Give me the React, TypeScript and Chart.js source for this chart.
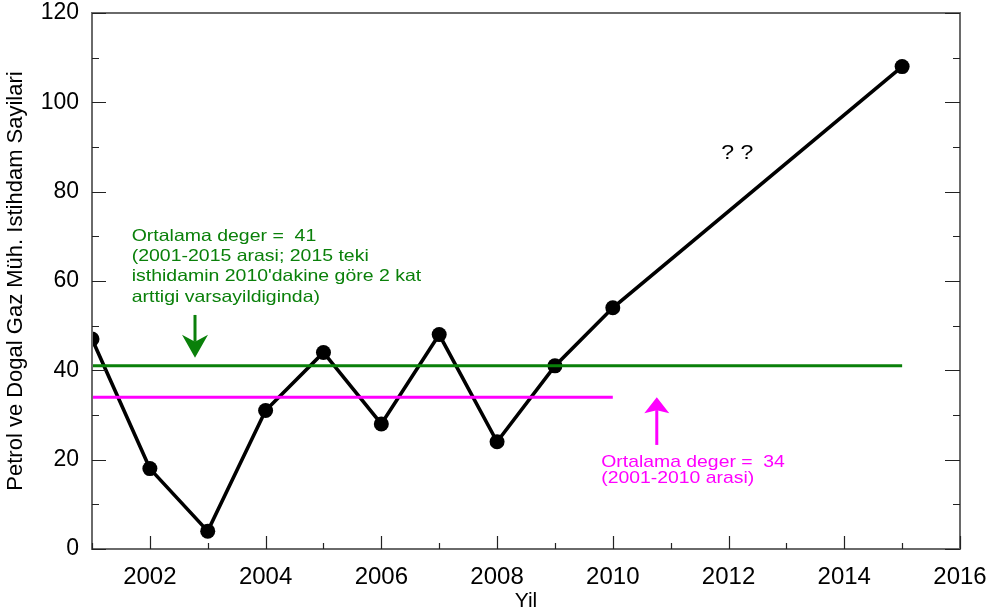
import React, { useEffect, useRef } from 'react';
import { Chart, registerables } from 'chart.js';

Chart.register(...registerables);

// ---- data ----
const years = [2001, 2002, 2003, 2004, 2005, 2006, 2007, 2008, 2009, 2010, 2015];
const employment = [47, 18, 4, 31, 44, 28, 48, 24, 41, 54, 108];

const avgAllValue = 41;
const avgAllYears = [2001, 2015];
const avg2010Value = 34;
const avg2010Years = [2001, 2010];

const xTickLabels = [2002, 2004, 2006, 2008, 2010, 2012, 2014, 2016];
const yTickLabels = [0, 20, 40, 60, 80, 100, 120];

const greenNote = [
  'Ortalama deger =  41',
  '(2001-2015 arasi; 2015 teki',
  "isthidamin 2010'dakine göre 2 kat",
  'arttigi varsayildiginda)',
];
const magentaNote = ['Ortalama deger =  34', '(2001-2010 arasi)'];
const questionNote = '? ?';

const xTitle = 'Yil';
const yTitle = 'Petrol ve Dogal Gaz Müh. Istihdam Sayilari';

const GREEN = '#0a800a';
const MAGENTA = '#ff00ff';
const FONT = '"Liberation Sans", Arial, sans-serif';

function stretchText(ctx: CanvasRenderingContext2D, text: string, x: number, y: number, sx: number) {
  ctx.save();
  ctx.translate(x, y);
  ctx.scale(sx, 1);
  ctx.fillText(text, 0, 0);
  ctx.restore();
}

function arrow(
  ctx: CanvasRenderingContext2D,
  x: number,
  yStart: number,
  yTip: number,
  headLen: number,
  headW: number,
  notch: number,
  color: string
) {
  const dir = yTip > yStart ? 1 : -1;
  ctx.save();
  ctx.strokeStyle = color;
  ctx.fillStyle = color;
  ctx.lineWidth = 3;
  ctx.beginPath();
  ctx.moveTo(x, yStart);
  ctx.lineTo(x, yTip - dir * (headLen - notch));
  ctx.stroke();
  ctx.beginPath();
  ctx.moveTo(x, yTip);
  ctx.lineTo(x - headW / 2, yTip - dir * headLen);
  ctx.lineTo(x, yTip - dir * (headLen - notch));
  ctx.lineTo(x + headW / 2, yTip - dir * headLen);
  ctx.closePath();
  ctx.fill();
  ctx.restore();
}

const decorPlugin = {
  id: 'decor',
  afterDraw(chart: any) {
    const ctx: CanvasRenderingContext2D = chart.ctx;
    const { left, right, top, bottom } = chart.chartArea;
    const xs = chart.scales.x;
    const ys = chart.scales.y;

    // frame
    ctx.save();
    ctx.strokeStyle = '#6a6a6a';
    ctx.lineWidth = 2;
    ctx.strokeRect(left, top, right - left, bottom - top);

    // inside tick marks
    ctx.strokeStyle = '#222';
    ctx.lineWidth = 1.2;
    ctx.beginPath();
    for (let v = 0; v <= 120; v += 10) {
      const y = Math.round(ys.getPixelForValue(v)) + 0.5;
      const major = v % 20 === 0;
      ctx.moveTo(left, y);
      ctx.lineTo(left + (major ? 14 : 7), y);
      ctx.moveTo(right, y);
      ctx.lineTo(right - (major ? 15 : 7), y);
    }
    for (let yr = 2001; yr <= 2016; yr++) {
      const x = Math.round(xs.getPixelForValue(yr)) + 0.5;
      const major = yr % 2 === 0;
      ctx.moveTo(x, bottom);
      ctx.lineTo(x, bottom - (major ? 13 : 6));
    }
    ctx.stroke();
    ctx.restore();

    // green annotation
    ctx.save();
    ctx.fillStyle = GREEN;
    ctx.font = `16.5px ${FONT}`;
    ctx.textBaseline = 'alphabetic';
    ctx.textAlign = 'left';
    const gx = xs.getPixelForValue(2001.686);
    const gy = ys.getPixelForValue(69.0);
    greenNote.forEach((line, i) => stretchText(ctx, line, gx, gy + i * 20.3, 1.18));
    arrow(ctx, xs.getPixelForValue(2002.78), ys.getPixelForValue(52.4), ys.getPixelForValue(42.8), 23, 26, 7, GREEN);

    // magenta annotation
    ctx.fillStyle = MAGENTA;
    ctx.font = `17px ${FONT}`;
    const mx = xs.getPixelForValue(2009.8);
    const my = ys.getPixelForValue(18.3);
    magentaNote.forEach((line, i) => stretchText(ctx, line, mx, my + i * 16, 1.14));
    arrow(ctx, xs.getPixelForValue(2010.76), ys.getPixelForValue(23.3), ys.getPixelForValue(34.0), 16, 25, 3, MAGENTA);

    // question marks
    ctx.fillStyle = '#000';
    ctx.font = `21px ${FONT}`;
    ctx.textAlign = 'center';
    ctx.textBaseline = 'middle';
    stretchText(ctx, questionNote, xs.getPixelForValue(2012.15), ys.getPixelForValue(88.7), 1.1);
    ctx.restore();
  },
};

export default function App() {
  const ref = useRef<HTMLCanvasElement | null>(null);

  useEffect(() => {
    if (!ref.current) return;
    const chart = new Chart(ref.current, {
      type: 'line',
      data: {
        datasets: [
          {
            label: 'avg2015',
            data: avgAllYears.map((x) => ({ x, y: avgAllValue })),
            borderColor: GREEN,
            borderWidth: 3,
            pointRadius: 0,
          },
          {
            label: 'avg2010',
            data: avg2010Years.map((x) => ({ x, y: avg2010Value })),
            borderColor: MAGENTA,
            borderWidth: 3,
            pointRadius: 0,
          },
          {
            label: 'employment',
            data: years.map((x, i) => ({ x, y: employment[i] })),
            borderColor: '#000',
            backgroundColor: '#000',
            borderWidth: 3.6,
            pointRadius: 7.5,
            pointBorderWidth: 0,
            pointBackgroundColor: '#000',
            tension: 0,
          },
        ],
      },
      options: {
        responsive: false,
        animation: false,
        devicePixelRatio: 1,
        layout: { padding: { top: 13, right: 47, left: 0, bottom: 0 } },
        plugins: { legend: { display: false }, tooltip: { enabled: false } },
        scales: {
          x: {
            type: 'linear',
            min: 2001,
            max: 2016,
            grid: { display: false, drawTicks: false },
            border: { display: false },
            afterBuildTicks: (scale: any) => {
              scale.ticks = xTickLabels.map((v) => ({ value: v }));
            },
            afterFit: (scale: any) => {
              scale.height = 65;
              scale.paddingLeft = 0;
              scale.paddingRight = 0;
            },
            ticks: {
              autoSkip: false,
              maxRotation: 0,
              padding: 14,
              color: '#000',
              font: { size: 24, family: FONT },
              callback: (v: any) => String(v),
            },
            title: {
              display: true,
              text: xTitle,
              color: '#000',
              font: { size: 21, family: FONT },
              padding: { top: 0, bottom: 0 },
            },
          },
          y: {
            type: 'linear',
            min: 0,
            max: 120,
            grid: { display: false, drawTicks: false },
            border: { display: false },
            afterBuildTicks: (scale: any) => {
              scale.ticks = yTickLabels.map((v) => ({ value: v }));
            },
            afterFit: (scale: any) => {
              scale.width = 92;
              scale.paddingTop = 0;
              scale.paddingBottom = 0;
            },
            ticks: {
              padding: 13,
              color: '#000',
              font: { size: 23, family: FONT },
              callback: (v: any) => String(v),
            },
            title: {
              display: true,
              text: yTitle,
              color: '#000',
              font: { size: 22, family: FONT },
              padding: { top: 3, bottom: 0 },
            },
          },
        },
      },
      plugins: [decorPlugin],
    });
    return () => chart.destroy();
  }, []);

  return (
    <div style={{ position: 'absolute', left: 0, top: 0, width: 1007, height: 614, background: '#fff' }}>
      <canvas ref={ref} width={1007} height={614} style={{ display: 'block' }} />
    </div>
  );
}
